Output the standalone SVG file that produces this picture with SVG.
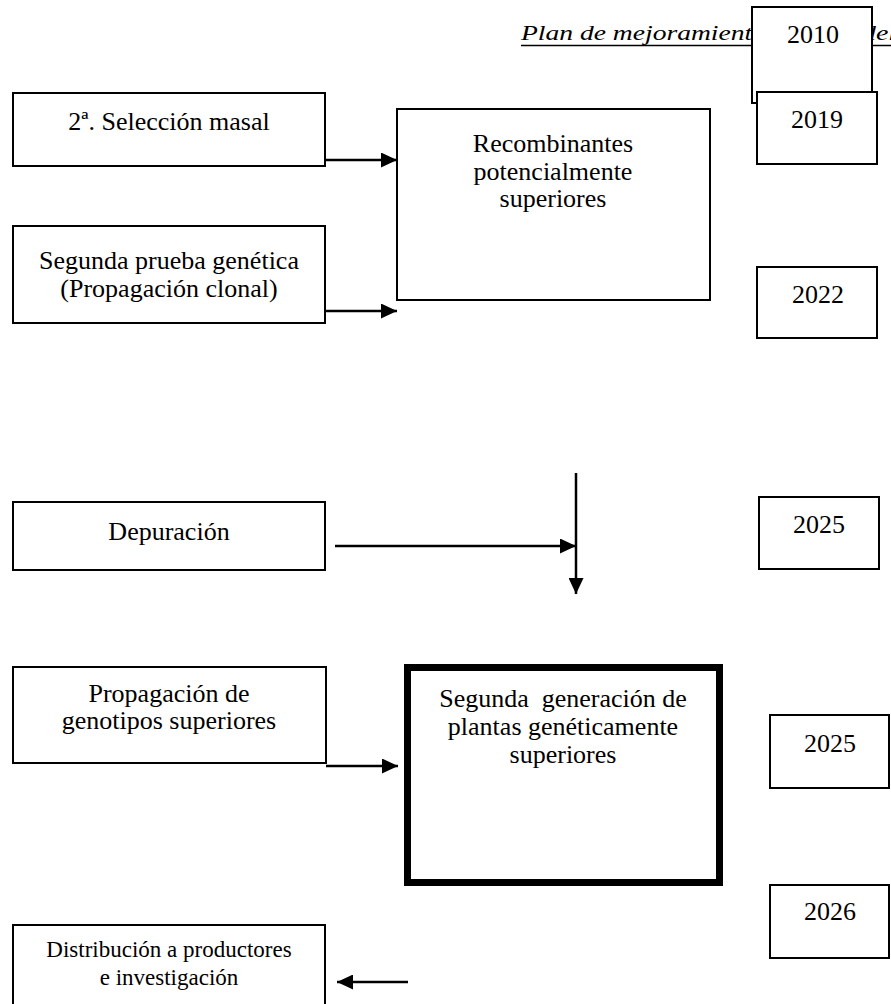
<svg xmlns="http://www.w3.org/2000/svg" width="891" height="1004" viewBox="0 0 891 1004">
<style>
  text { font-family: "Liberation Serif", "Times New Roman", serif; fill: #000; }
  .t { font-size: 26px; text-anchor: middle; }
  .s { font-size: 23px; text-anchor: middle; }
  .box { fill: #fff; stroke: #000; stroke-width: 2; }
  .thick { fill: #fff; stroke: #000; stroke-width: 7; }
  .hdr { font-size: 20px; font-style: italic; }
  .conn { fill: none; stroke: #000; stroke-width: 2.5; }
</style>
<defs>
  <marker id="ah" markerUnits="userSpaceOnUse" markerWidth="16" markerHeight="15" refX="16" refY="7.5" orient="auto">
    <path d="M0,0 L16,7.5 L0,15 z" fill="#000"/>
  </marker>
</defs>
<rect x="0" y="0" width="891" height="1004" fill="#fff"/>

<g id="header">
  <line x1="521" y1="45.5" x2="891" y2="45.5" stroke="#000" stroke-width="1.5"/>
  <text class="hdr" x="521" y="40" textLength="245" lengthAdjust="spacingAndGlyphs">Plan de mejoramiento</text>
  <text class="hdr" x="862" y="40" textLength="34" lengthAdjust="spacingAndGlyphs">del</text>
</g>

<g id="y2010">
  <rect class="box" x="752" y="7" width="120" height="96"/>
  <text class="t" x="813" y="43">2010</text>
</g>
<g id="y2019">
  <rect class="box" x="757" y="92" width="120" height="72"/>
  <text class="t" x="817" y="128">2019</text>
</g>
<g id="y2022">
  <rect class="box" x="757" y="267" width="120" height="71"/>
  <text class="t" x="818" y="303">2022</text>
</g>
<g id="y2025a">
  <rect class="box" x="759" y="497" width="120" height="72"/>
  <text class="t" x="819" y="533">2025</text>
</g>
<g id="y2025b">
  <rect class="box" x="770" y="715" width="119" height="73"/>
  <text class="t" x="830" y="752">2025</text>
</g>
<g id="y2026">
  <rect class="box" x="770" y="885" width="119" height="73"/>
  <text class="t" x="830" y="920">2026</text>
</g>

<g id="seleccion">
  <rect class="box" x="13" y="93" width="312" height="73"/>
  <text class="t" x="169" y="130">2ª. Selección masal</text>
</g>
<g id="prueba">
  <rect class="box" x="13" y="226" width="312" height="97"/>
  <text class="t" x="169" y="269">Segunda prueba genética</text>
  <text class="t" x="169" y="297">(Propagación clonal)</text>
</g>
<g id="recombinantes">
  <rect class="box" x="397" y="109" width="313" height="191"/>
  <text class="t" x="553" y="152">Recombinantes</text>
  <text class="t" x="553" y="180">potencialmente</text>
  <text class="t" x="553" y="207">superiores</text>
</g>
<g id="depuracion">
  <rect class="box" x="13" y="502" width="312" height="68"/>
  <text class="t" x="169" y="540">Depuración</text>
</g>
<g id="propagacion">
  <rect class="box" x="13" y="667" width="313" height="96"/>
  <text class="t" x="169" y="702">Propagación de</text>
  <text class="t" x="169" y="729">genotipos superiores</text>
</g>
<g id="segunda-generacion">
  <rect class="thick" x="407.5" y="667.5" width="312" height="215"/>
  <text class="t" x="563" y="707" xml:space="preserve">Segunda  generación de</text>
  <text class="t" x="563" y="735">plantas genéticamente</text>
  <text class="t" x="563" y="763">superiores</text>
</g>
<g id="distribucion">
  <rect class="box" x="13" y="925" width="312" height="100"/>
  <text class="s" x="169" y="957">Distribución a productores</text>
  <text class="s" x="169" y="985">e investigación</text>
</g>

<g id="connectors">
  <path class="conn" d="M325,160 H397" marker-end="url(#ah)"/>
  <path class="conn" d="M325,311 H397" marker-end="url(#ah)"/>
  <path class="conn" d="M335,546 H576" marker-end="url(#ah)"/>
  <path class="conn" d="M576,473 V594" marker-end="url(#ah)"/>
  <path class="conn" d="M326,766 H398" marker-end="url(#ah)"/>
  <path class="conn" d="M408,982 H337" marker-end="url(#ah)"/>
</g>
</svg>
